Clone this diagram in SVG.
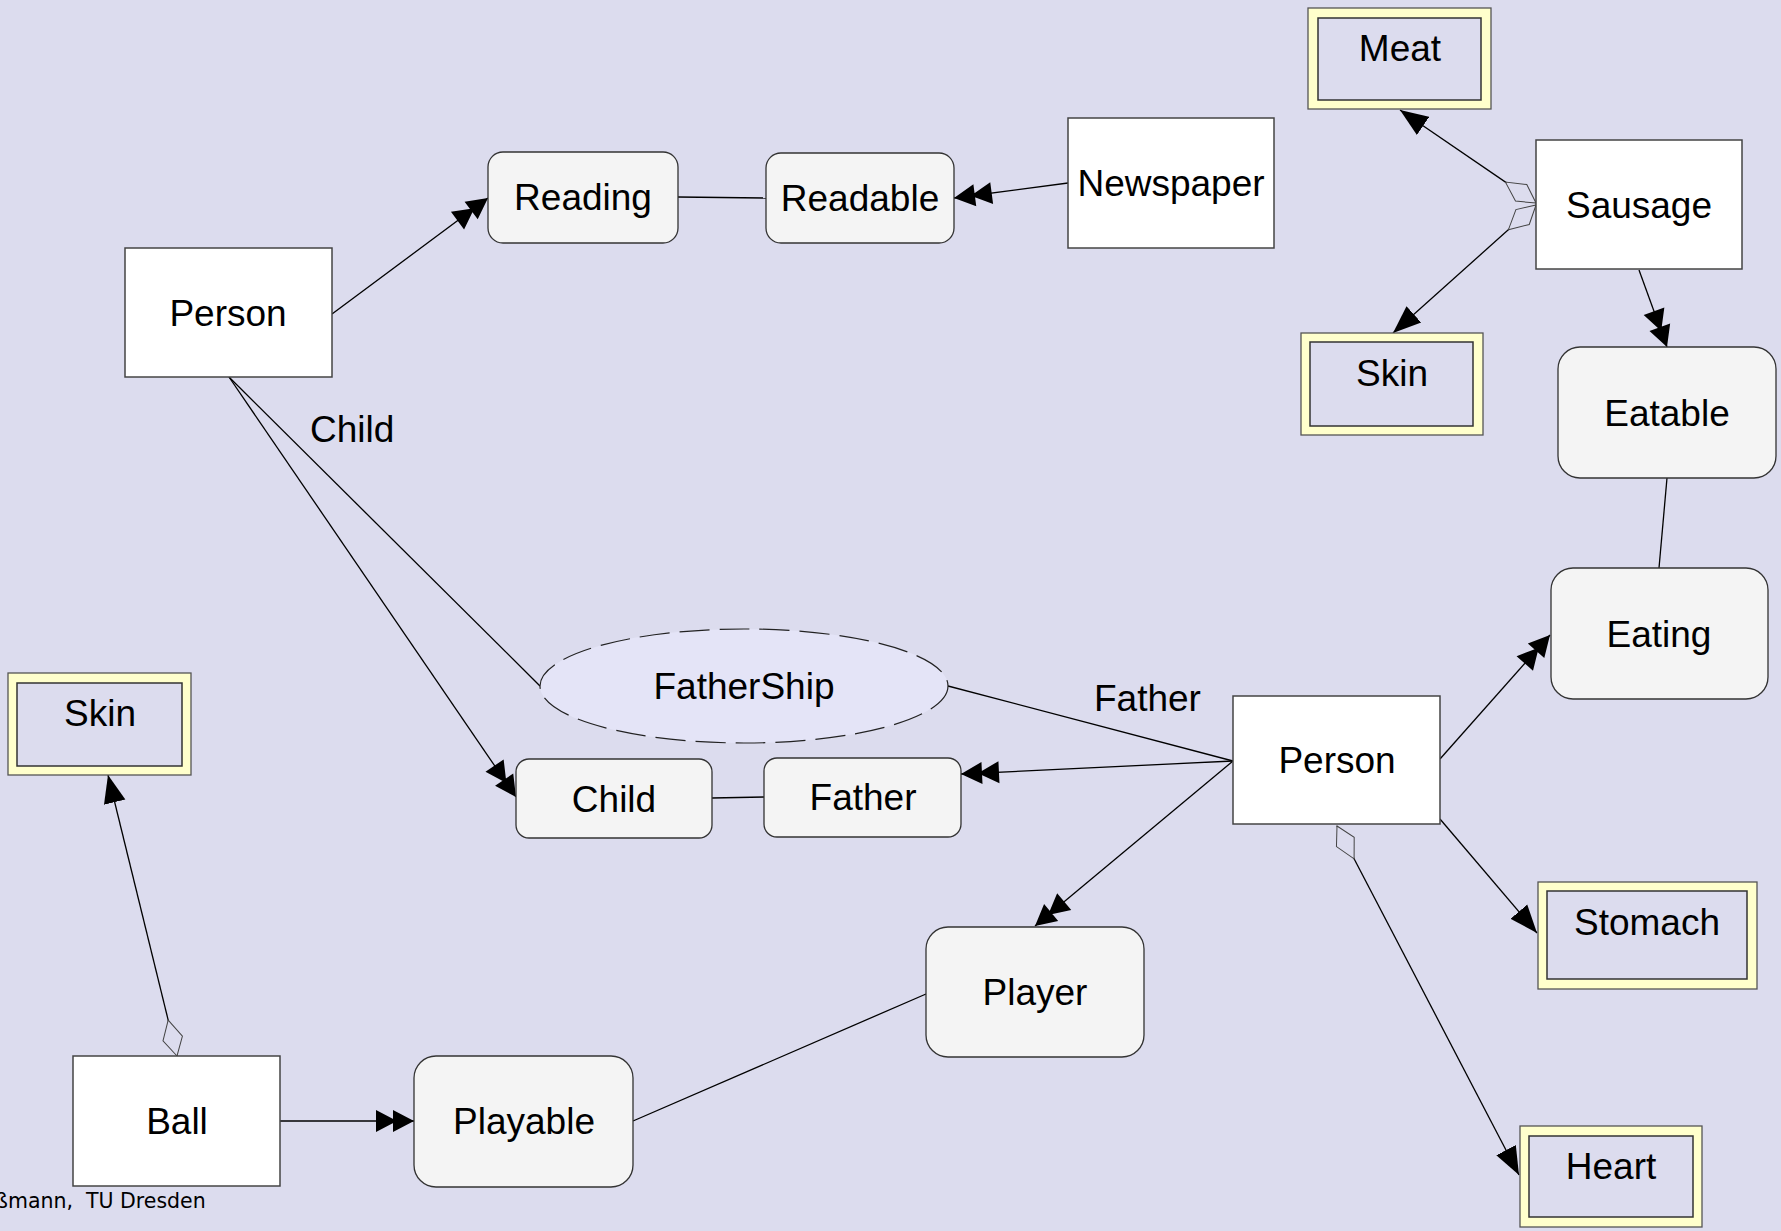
<svg xmlns="http://www.w3.org/2000/svg" width="1781" height="1231" viewBox="0 0 1781 1231">
<style>
text{font-family:"Liberation Sans",Arial,sans-serif;font-size:37px;fill:#000;text-anchor:middle}
.box{fill:#fff;stroke:#444;stroke-width:1.5}
.rbox{fill:#f4f4f4;stroke:#333;stroke-width:1.3}
.frame{fill:#ffffcc;stroke:#555;stroke-width:1.3}
.inner{fill:#dcdcee;stroke:#333;stroke-width:1.5}
.edge{fill:none;stroke:#000;stroke-width:1.3}
.lbl{text-anchor:start}
.foot{font-family:"DejaVu Sans",Verdana,sans-serif;font-size:20.5px;text-anchor:start}
</style>
<defs>
<marker id="arr" markerUnits="userSpaceOnUse" viewBox="0 -12 30 24" markerWidth="30" markerHeight="24" refX="28" refY="0" orient="auto">
<path d="M0,-11 L28,0 L0,11 Z" fill="#000"/>
</marker>
<marker id="dbl" markerUnits="userSpaceOnUse" viewBox="-20 -12 42 24" markerWidth="42" markerHeight="24" refX="21" refY="0" orient="auto">
<path d="M0,-11 L21,0 L0,11 Z M-17,-11 L4,0 L-17,11 Z" fill="#000"/>
</marker>
<marker id="dia" markerUnits="userSpaceOnUse" viewBox="-1 -11 39 22" markerWidth="39" markerHeight="22" refX="0" refY="0" orient="auto">
<path d="M0,0 L18,-10 L37,0 L18,10 Z" fill="#dcdcee" stroke="#444" stroke-width="1"/>
</marker>
</defs>
<rect x="0" y="0" width="1781" height="1231" fill="#dcdcee"/>

<g id="connectors">
<path class="edge" d="M332,314 L488,198" marker-end="url(#dbl)"/>
<path class="edge" d="M678,197 L766,198"/>
<path class="edge" d="M1068,183 L954,198" marker-end="url(#dbl)"/>
<path class="edge" d="M1536,203 L1400,110" marker-start="url(#dia)" marker-end="url(#arr)"/>
<path class="edge" d="M1536,205 L1393,333" marker-start="url(#dia)" marker-end="url(#arr)"/>
<path class="edge" d="M1639,270 L1667,347" marker-end="url(#dbl)"/>
<path class="edge" d="M1667,478 L1659,568"/>
<path class="edge" d="M1440,759 L1550,635" marker-end="url(#dbl)"/>
<path class="edge" d="M1440,819 L1537,933" marker-end="url(#arr)"/>
<path class="edge" d="M1337,826 L1519,1175" marker-start="url(#dia)" marker-end="url(#arr)"/>
<path class="edge" d="M1233,761 L1035,926" marker-end="url(#dbl)"/>
<path class="edge" d="M1233,761 L961,774" marker-end="url(#dbl)"/>
<path class="edge" d="M1233,761 L948,686"/>
<path class="edge" d="M229,377 L540,686"/>
<path class="edge" d="M229,377 L516,797" marker-end="url(#dbl)"/>
<path class="edge" d="M712,798 L764,797"/>
<path class="edge" d="M280,1121 L414,1121" marker-end="url(#dbl)"/>
<path class="edge" d="M633,1121 L926,994"/>
<path class="edge" d="M177,1056 L108,775" marker-start="url(#dia)" marker-end="url(#arr)"/>
<text class="lbl" x="310" y="442">Child</text>
<text class="lbl" x="1094" y="711">Father</text>
</g>

<g id="person1"><rect class="box" x="125" y="248" width="207" height="129"/><text x="228" y="326">Person</text></g>
<g id="reading"><rect class="rbox" x="488" y="152" width="190" height="91" rx="15"/><text x="583" y="210">Reading</text></g>
<g id="readable"><rect class="rbox" x="766" y="153" width="188" height="90" rx="15"/><text x="860" y="211">Readable</text></g>
<g id="newspaper"><rect class="box" x="1068" y="118" width="206" height="130"/><text x="1171" y="196">Newspaper</text></g>
<g id="meat"><rect class="frame" x="1308" y="8" width="183" height="101"/><rect class="inner" x="1318" y="18" width="163" height="82"/><text x="1400" y="61">Meat</text></g>
<g id="sausage"><rect class="box" x="1536" y="140" width="206" height="129"/><text x="1639" y="218">Sausage</text></g>
<g id="skin1"><rect class="frame" x="1301" y="333" width="182" height="102"/><rect class="inner" x="1310" y="342" width="163" height="84"/><text x="1392" y="386">Skin</text></g>
<g id="eatable"><rect class="rbox" x="1558" y="347" width="218" height="131" rx="22"/><text x="1667" y="426">Eatable</text></g>
<g id="eating"><rect class="rbox" x="1551" y="568" width="217" height="131" rx="22"/><text x="1659" y="647">Eating</text></g>
<g id="fathership"><ellipse cx="744" cy="686" rx="204" ry="57" fill="#e4e4f7" stroke="#222" stroke-width="1.2" stroke-dasharray="30 10"/><text x="744" y="699">FatherShip</text></g>
<g id="child"><rect class="rbox" x="516" y="759" width="196" height="79" rx="13"/><text x="614" y="812">Child</text></g>
<g id="father"><rect class="rbox" x="764" y="758" width="197" height="79" rx="13"/><text x="863" y="810">Father</text></g>
<g id="person2"><rect class="box" x="1233" y="696" width="207" height="128"/><text x="1337" y="773">Person</text></g>
<g id="stomach"><rect class="frame" x="1538" y="882" width="219" height="107"/><rect class="inner" x="1547" y="891" width="200" height="88"/><text x="1647" y="935">Stomach</text></g>
<g id="heart"><rect class="frame" x="1520" y="1126" width="182" height="101"/><rect class="inner" x="1529" y="1136" width="164" height="81"/><text x="1611" y="1179">Heart</text></g>
<g id="player"><rect class="rbox" x="926" y="927" width="218" height="130" rx="22"/><text x="1035" y="1005">Player</text></g>
<g id="playable"><rect class="rbox" x="414" y="1056" width="219" height="131" rx="22"/><text x="524" y="1134">Playable</text></g>
<g id="ball"><rect class="box" x="73" y="1056" width="207" height="130"/><text x="177" y="1134">Ball</text></g>
<g id="skin2"><rect class="frame" x="8" y="673" width="183" height="102"/><rect class="inner" x="17" y="683" width="165" height="83"/><text x="100" y="726">Skin</text></g>

<text class="foot" x="-5" y="1208">ßmann, <tspan x="86">TU Dresden</tspan></text>
</svg>
